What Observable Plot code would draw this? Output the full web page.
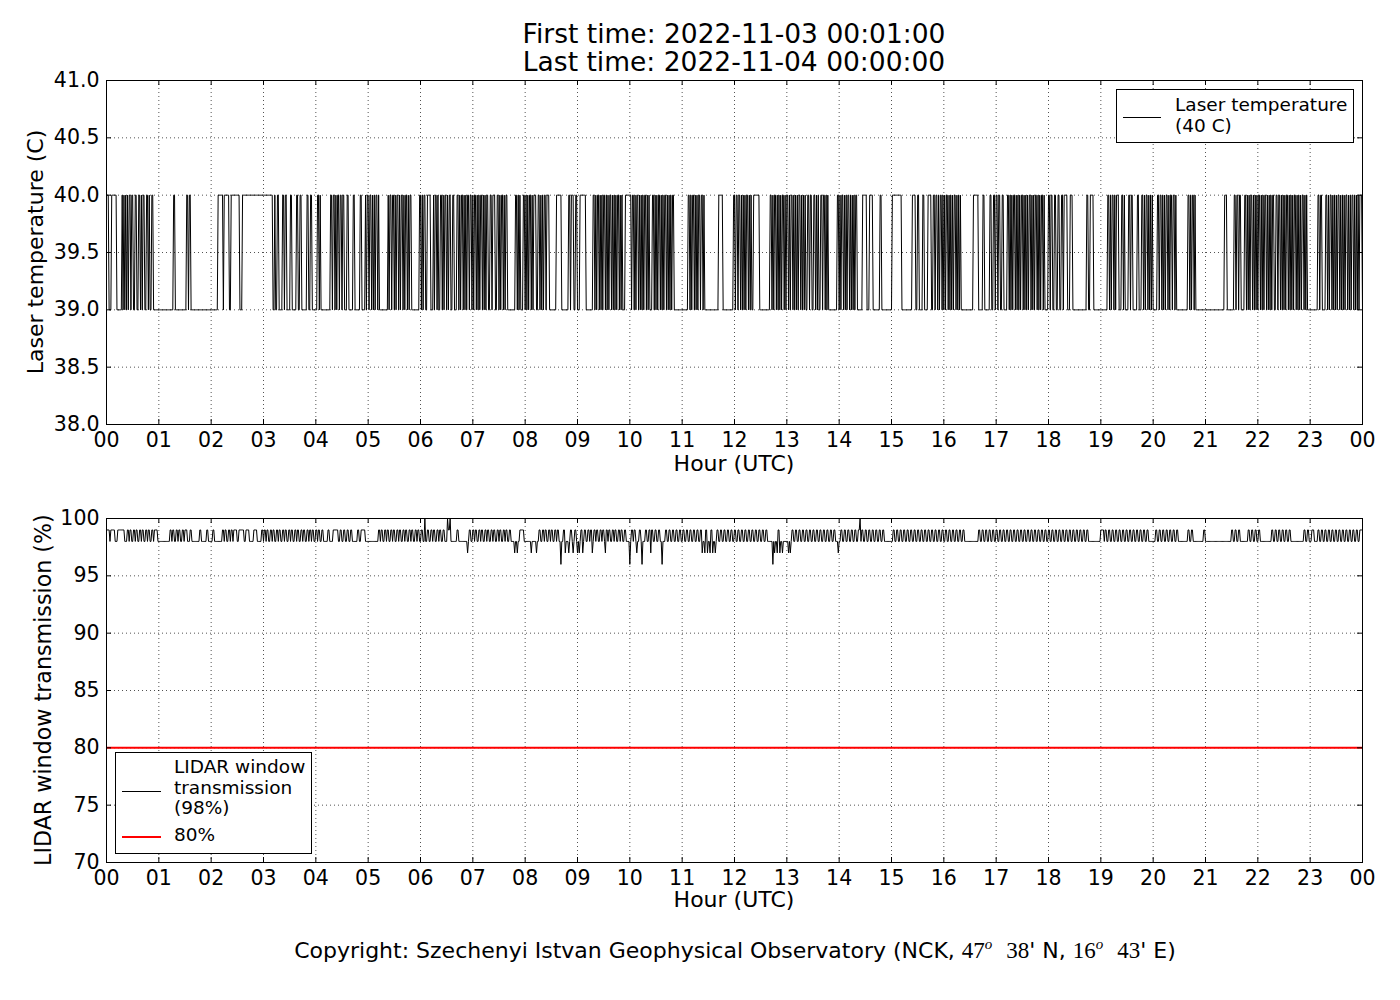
<!DOCTYPE html>
<html>
<head>
<meta charset="utf-8">
<script src="https://cdn.jsdelivr.net/npm/d3@7"></script>
<script src="https://cdn.jsdelivr.net/npm/@observablehq/plot@0.6"></script>
<style>
  html, body { margin: 0; padding: 0; background: #fff; overflow: hidden; }
  #wrap { position: relative; width: 1400px; height: 1000px; font-family: "DejaVu Sans", sans-serif; color: #000; }
  #wrap svg { position: absolute; left: 0; }
  .txt { position: absolute; white-space: nowrap; line-height: 1; }
  .center { transform: translateX(-50%); }
  .legend { position: absolute; background: #fff; border: 1px solid #000; box-sizing: border-box; }
  .legend .sample { position: absolute; }
  .legend .lab { position: absolute; font-size: 18.5px; line-height: 20.5px; white-space: nowrap; }
  .m { font-family: "Liberation Serif", "DejaVu Serif", serif; font-size: 23px; }
  .m sup { font-style: italic; font-size: 15px; vertical-align: 9px; line-height: 0; }
</style>
</head>
<body>
<div id="wrap"></div>
<script>
// ---------------- DATA ----------------
const titleLines = ["First time: 2022-11-03 00:01:00", "Last time: 2022-11-04 00:00:00"];
const hourTicks = [0,1,2,3,4,5,6,7,8,9,10,11,12,13,14,15,16,17,18,19,20,21,22,23,24];
const hourLabels = ["00","01","02","03","04","05","06","07","08","09","10","11","12","13","14","15","16","17","18","19","20","21","22","23","00"];
const laserTicks = [38.0, 38.5, 39.0, 39.5, 40.0, 40.5, 41.0];
const transTicks = [70, 75, 80, 85, 90, 95, 100];
const firstMinute = 1, lastMinute = 1440;   // 00:01 .. 24:00 (1-minute samples)

// Laser temperature: baseline 39 C, minute ranges (inclusive) read at 40 C
const laserBase = 39, laserHighValue = 40;
const laserHigh = [
 [1,2],[6,11],[18,18],[20,20],[22,22],[24,24],[26,27],[29,30],[33,34],[37,38],[40,40],[42,43],[46,47],[49,49],[52,53],
 [77,78],[92,93],[95,96],[128,133],[135,140],[143,152],[156,190],[193,193],[196,197],[202,203],[205,206],[211,212],
 [218,219],[222,223],[230,231],[234,235],[242,243],[245,245],[257,258],[260,261],[263,263],[265,266],[268,269],[271,272],
 [276,277],[283,284],[291,292],[297,297],[299,300],[302,303],[305,305],[307,307],[309,310],[312,312],[323,323],[325,326],
 [328,329],[331,331],[333,334],[336,336],[338,339],[341,341],[343,344],[346,346],[348,349],
 [359,360],[362,362],[364,365],[368,371],[375,375],[377,378],[380,380],[383,384],[386,386],[388,389],[391,391],[393,394],
 [397,398],[402,403],[405,405],[407,408],[410,410],[412,412],[414,415],[417,418],[420,420],[422,423],[425,425],[427,427],
 [429,430],[432,432],[434,434],[436,437],[440,441],[443,445],[448,449],[451,451],[453,454],[456,456],[458,459],[469,470],
 [472,472],[474,474],[478,479],[481,481],[483,483],[485,486],[488,488],[490,492],[495,496],[498,498],[500,500],[502,503],
 [505,507],[516,521],[530,531],[533,535],[538,539],[543,549],[558,559],[561,561],[563,564],[566,566],[568,568],[570,571],
 [573,573],[575,575],[577,578],[580,580],[582,582],[584,584],[586,587],[589,589],[591,591],[595,601],[603,604],[606,606],
 [608,609],[611,611],[613,613],[615,615],[617,618],[620,620],[622,622],[626,627],[629,629],[631,631],[633,634],[636,636],
 [638,638],[640,641],[643,643],[645,645],[647,647],[649,650],[667,668],[670,670],[672,673],[675,675],[677,677],[679,680],
 [682,683],[685,685],[702,706],
 [719,720],[722,723],[725,726],[728,728],[730,730],[732,732],[734,735],[737,737],[739,739],[742,748],[761,762],[764,764],
 [766,767],[769,769],[771,771],[773,773],[775,776],[778,778],[780,781],[783,783],[785,786],[788,788],[790,790],[792,792],
 [794,795],[797,797],[799,799],[801,801],[804,805],[807,808],[811,812],[814,814],[816,816],[819,820],[822,823],[825,825],
 [827,827],[838,839],[841,841],[843,844],[846,846],[848,848],[850,851],[853,853],[855,855],[857,857],[859,860],[867,871],
 [875,878],[887,888],[901,911],[924,927],[930,931],[936,937],[942,945],[948,949],[951,952],[954,954],[956,957],[959,959],
 [961,961],[963,964],[966,966],[968,968],[970,970],[972,973],[975,975],[977,977],[979,979],[994,999],[1005,1006],[1013,1014],
 [1017,1018],[1020,1021],[1023,1024],[1027,1028],[1033,1034],[1036,1036],[1038,1038],[1040,1041],[1043,1043],[1045,1045],
 [1047,1047],[1049,1050],[1052,1052],[1054,1054],[1056,1056],[1058,1059],[1061,1061],[1063,1063],[1065,1066],[1068,1068],
 [1070,1070],
 [1072,1073],[1075,1075],[1080,1081],[1083,1084],[1087,1088],[1091,1092],[1095,1096],[1098,1101],[1105,1107],[1124,1125],
 [1128,1131],[1148,1149],[1151,1151],[1153,1154],[1156,1156],[1158,1160],[1164,1165],[1167,1167],[1172,1173],[1175,1176],
 [1182,1183],[1187,1188],[1190,1190],[1192,1193],[1195,1195],[1197,1197],[1199,1199],[1205,1206],[1208,1209],[1211,1211],
 [1213,1213],[1215,1216],[1218,1218],[1220,1221],[1223,1224],[1226,1226],[1240,1241],[1243,1243],[1245,1246],[1248,1248],
 [1282,1284],[1293,1294],[1296,1297],[1299,1300],[1305,1306],[1308,1308],[1310,1310],[1312,1313],[1315,1315],[1317,1317],
 [1319,1319],[1321,1322],[1324,1324],[1326,1326],[1328,1329],[1331,1331],[1333,1333],[1335,1335],[1337,1338],[1341,1342],
 [1344,1345],[1347,1347],[1349,1349],[1351,1351],[1353,1354],[1356,1356],[1358,1358],[1360,1360],[1362,1363],[1365,1365],
 [1367,1367],[1369,1369],[1371,1372],[1374,1374],[1376,1376],[1389,1390],[1392,1393],[1398,1399],[1401,1401],[1403,1404],
 [1406,1406],[1408,1408],[1410,1410],[1412,1413],[1415,1415],[1417,1417],[1419,1419],[1421,1422],[1424,1424],[1426,1426],
 [1428,1429],[1431,1431],[1433,1433],[1435,1435],[1437,1439]
];

// LIDAR window transmission: baseline 98 %, minute ranges read at 99 %, single minutes at 100/97/96 %
const transBase = 98;
const trans99 = [
 [1,3],[5,9],[13,20],[24,25],[27,28],[31,32],[34,35],[38,39],[41,42],[45,46],[48,49],[52,53],[55,58],[73,74],[76,77],
 [80,81],[83,84],[87,88],[90,92],[96,97],[107,108],[115,116],[122,123],[133,134],[136,137],[140,141],[143,144],[146,149],
 [152,157],[160,163],[169,172],[178,179],[181,182],[184,185],[188,189],[191,192],[195,196],[198,199],[202,203],[205,206],
 [209,210],[212,213],[216,217],[219,220],[223,224],[226,227],[230,231],[233,234],[236,237],[240,241],[243,244],[247,248],
 [254,255],[260,265],[268,269],[272,273],[276,277],[280,281],[288,289],[292,296],[312,313],[315,316],[319,320],[322,323],
 [326,327],[329,330],[333,334],[336,337],[340,341],[343,344],[347,348],[350,351],[354,355],[357,358],[361,362],[368,369],
 [372,373],[375,376],[379,380],[382,383],[386,387],[392,393],[402,403],[416,417],[420,421],[423,424],[427,428],[430,431],
 [434,435],[437,438],[441,442],[444,445],[448,449],[451,452],[455,456],[458,459],[462,463],[474,478],[496,497],[500,501],
 [503,504],[507,508],[510,511],[514,515],[517,518],[524,525],[532,533],[537,538],[544,545],[548,549],[552,553],[555,556],
 [559,560],[562,563],[566,567],[569,570],[573,574],[576,577],[580,581],[583,584],[587,588],[590,591],[594,595],[602,603],
 [605,606],[611,612],[618,619],[622,623],[625,626],[629,630],[633,634],[641,642],[645,646],[649,650],[653,654],[657,658],
 [661,662],[665,666],[669,670],[673,674],[677,678],[681,682],[687,688],[693,694],[700,701],[704,705],[708,709],[712,713],
 [716,717],[720,721],[724,725],[728,729],[732,733],[736,737],[740,741],[744,745],[748,749],[752,753],[756,757],[770,771],
 [786,787],[790,791],[794,795],[798,799],[802,803],[806,807],[810,811],[814,815],[818,819],[822,823],[826,827],[830,831],
 [834,835],[842,843],[846,847],[850,851],[854,855],[858,859],[862,863],[866,867],[870,871],[874,875],[878,879],[882,883],
 [886,887],[890,891],[902,903],[906,907],[910,911],[914,915],[918,919],[922,923],[926,927],[930,931],[934,935],[938,939],
 [942,943],[946,947],[950,951],[954,955],[958,959],[962,963],[966,967],[970,971],[974,975],[978,979],[982,983],[1000,1001],
 [1004,1005],[1008,1009],[1012,1013],[1016,1017],[1020,1021],[1024,1025],[1028,1029],[1032,1033],[1036,1037],[1040,1041],
 [1044,1045],[1048,1049],[1052,1053],[1056,1057],[1060,1061],[1064,1065],[1068,1069],[1072,1073],[1076,1077],[1080,1081],
 [1084,1085],[1088,1089],[1092,1093],[1096,1097],[1100,1101],[1104,1105],[1108,1109],[1112,1113],[1116,1117],[1120,1121],
 [1124,1125],[1140,1143],[1145,1146],[1149,1150],[1153,1154],[1157,1158],[1161,1162],[1165,1166],[1169,1170],[1173,1174],
 [1177,1178],[1181,1182],[1185,1186],[1189,1190],[1193,1194],[1203,1204],[1207,1208],[1211,1212],[1215,1216],[1219,1220],
 [1223,1224],[1227,1228],[1240,1241],[1244,1245],[1258,1259],[1290,1291],[1294,1295],[1298,1299],[1309,1310],[1313,1314],
 [1317,1318],[1321,1322],[1336,1337],[1340,1341],[1344,1345],[1348,1349],[1352,1353],[1356,1357],[1373,1374],[1377,1378],
 [1382,1384],[1389,1390],[1393,1394],[1397,1398],[1401,1402],[1405,1406],[1409,1410],[1413,1414],[1417,1418],[1421,1422],
 [1425,1426],[1429,1430],[1433,1434],[1437,1440]
];
const trans100 = [365, 391, 394, 864];
const trans97 = [414, 468, 471, 487, 493, 526, 530, 535, 540, 542, 546, 557, 572, 608, 624, 683, 686, 689, 692, 695, 698,
                 766, 769, 772, 775, 782, 784, 839];
const trans96 = [521, 600, 614, 637, 764];
const threshold = 80;

// ------------- build series from the read values -------------
const laserHighSet = new Set();
for (const [s, e] of laserHigh) for (let m = s; m <= e; m++) laserHighSet.add(m);
const t99 = new Set();
for (const [s, e] of trans99) for (let m = s; m <= e; m++) t99.add(m);
const s100 = new Set(trans100), s97 = new Set(trans97), s96 = new Set(trans96);

const laser = [], trans = [];
for (let m = firstMinute; m <= lastMinute; m++) {
  laser.push({h: m / 60, v: laserHighSet.has(m) ? laserHighValue : laserBase});
  let v = transBase;
  if (t99.has(m)) v = 99;
  if (s97.has(m)) v = 97;
  if (s96.has(m)) v = 96;
  if (s100.has(m)) v = 100;
  trans.push({h: m / 60, v});
}

// ---------------- LAYOUT ----------------
const W = 1400, ML = 106, MR = 38;
const plotW = W - ML - MR;
const tickLen = 5;
const wrap = document.getElementById("wrap");
const fmtHour = d => hourLabels[hourTicks.indexOf(Math.round(d))] ?? "";

function panel({data, yDomain, yTicks, yFmt, H, MT, MB, extra = []}) {
  const plotH = H - MT - MB;
  return Plot.plot({
    width: W, height: H,
    marginLeft: ML, marginRight: MR, marginTop: MT, marginBottom: MB,
    style: {fontFamily: "DejaVu Sans, sans-serif", fontSize: "20.5px", background: "transparent", color: "#000", overflow: "visible"},
    x: {domain: [0, 24], ticks: 24, tickFormat: fmtHour, tickSize: 0, tickPadding: 8, label: null},
    y: {domain: yDomain, ticks: yTicks.length - 1, tickFormat: yFmt, tickSize: 0, tickPadding: 7, label: null},
    marks: [
      Plot.ruleX(hourTicks.slice(1, -1), {x: d => d, stroke: "#000", strokeWidth: 0.8, strokeDasharray: "1,3", strokeOpacity: 0.85}),
      Plot.ruleY(yTicks.slice(1, -1), {y: d => d, stroke: "#000", strokeWidth: 0.8, strokeDasharray: "1,3", strokeOpacity: 0.85}),
      Plot.line(data, {x: "h", y: "v", stroke: "#000", strokeWidth: 1}),
      ...extra,
      Plot.tickX(hourTicks, {x: d => d, stroke: "#000", strokeWidth: 1, insetTop: plotH - tickLen}),
      Plot.tickX(hourTicks, {x: d => d, stroke: "#000", strokeWidth: 1, insetBottom: plotH - tickLen}),
      Plot.tickY(yTicks, {y: d => d, stroke: "#000", strokeWidth: 1, insetRight: plotW - tickLen}),
      Plot.tickY(yTicks, {y: d => d, stroke: "#000", strokeWidth: 1, insetLeft: plotW - tickLen}),
      Plot.frame({stroke: "#000", strokeWidth: 1})
    ]
  });
}

const topPlot = panel({data: laser, yDomain: [38, 41], yTicks: laserTicks, yFmt: d3.format(".1f"), H: 480, MT: 80, MB: 56});
topPlot.style.top = "0px";
wrap.appendChild(topPlot);

const bottomPlot = panel({data: trans, yDomain: [70, 100], yTicks: transTicks, yFmt: d3.format("d"), H: 450, MT: 38, MB: 68,
  extra: [Plot.ruleY([threshold], {y: d => d, stroke: "#ff0000", strokeWidth: 2})]});
bottomPlot.style.top = "480px";
wrap.appendChild(bottomPlot);

// ---------------- TEXT ----------------
function addText(html, left, baseline, size, cls = "center", extraStyle = "") {
  const d = document.createElement("div");
  d.className = "txt " + cls;
  d.style.cssText = `left:${left}px; top:${baseline - 0.846 * size}px; font-size:${size}px; ${extraStyle}`;
  d.innerHTML = html;
  wrap.appendChild(d);
  return d;
}
const cx = ML + plotW / 2;
addText(titleLines[0], cx, 43, 26.5);
addText(titleLines[1], cx, 71, 26.5);
addText("Hour (UTC)", cx, 472, 22);
addText("Hour (UTC)", cx, 908, 22);
addText('Copyright: Szechenyi Istvan Geophysical Observatory (NCK, <span class="m">47<sup>o</sup></span>&nbsp;&nbsp;<span class="m">38</span>\' N, <span class="m">16<sup>o</sup></span>&nbsp;&nbsp;<span class="m">43</span>\' E)', 735, 958, 22);

function addYLabel(text, centerX, centerY, size) {
  const d = document.createElement("div");
  d.className = "txt";
  const w = 500;
  d.style.cssText = `left:${centerX - w / 2}px; top:${centerY - size / 2}px; width:${w}px; height:${size}px; font-size:${size}px; text-align:center; transform: rotate(-90deg);`;
  d.textContent = text;
  wrap.appendChild(d);
}
addYLabel("Laser temperature (C)", 36.4, 252, 22);
addYLabel("LIDAR window transmission (%)", 43.4, 690, 22.2);

// ---------------- LEGENDS ----------------
function legend(left, topY, w, h, items) {
  const box = document.createElement("div");
  box.className = "legend";
  box.style.cssText = `left:${left}px; top:${topY}px; width:${w}px; height:${h}px;`;
  for (const it of items) {
    const s = document.createElement("div");
    s.className = "sample";
    s.style.cssText = `left:${it.sx}px; top:${it.sy - it.sw / 2}px; width:${it.slen}px; height:${it.sw}px; background:${it.color};`;
    box.appendChild(s);
    const t = document.createElement("div");
    t.className = "lab";
    t.style.cssText = `left:${it.tx}px; top:${it.ty}px;`;
    t.innerHTML = it.text;
    box.appendChild(t);
  }
  wrap.appendChild(box);
}
legend(1116, 89, 238, 54, [
  {sx: 6, sy: 27, slen: 38, sw: 1, color: "#000", tx: 58, ty: 5, text: "Laser temperature<br>(40 C)"}
]);
legend(115, 752, 197, 102, [
  {sx: 6, sy: 38, slen: 39, sw: 1, color: "#000", tx: 58, ty: 4, text: "LIDAR window<br>transmission<br>(98%)"},
  {sx: 6, sy: 84, slen: 39, sw: 2.5, color: "#ff0000", tx: 58, ty: 72, text: "80%"}
]);
</script>
</body>
</html>
